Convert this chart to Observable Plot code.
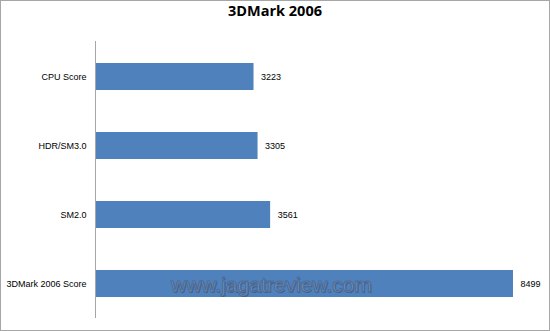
<!DOCTYPE html>
<html><head><meta charset="utf-8">
<script src="https://cdn.jsdelivr.net/npm/d3@7"></script>
<script src="https://cdn.jsdelivr.net/npm/@observablehq/plot@0.6"></script>
<style>
html,body{margin:0;padding:0;background:#fff;}
#frame{position:relative;width:548px;height:329px;border:1px solid #a6a6a6;background:#fff;overflow:hidden;}
#title{height:36px;line-height:38px;text-align:center;font:bold 14.5px "Open Sans",Arial,sans-serif;color:#000;}
#wm{position:absolute;left:170px;top:272px;font:21px "Liberation Sans",Arial,sans-serif;color:#7d92b3;-webkit-text-stroke:0.9px #4a6a95;text-shadow:1px 1px 0 #3f5f8c;}
</style></head>
<body>
<div id="frame">
<div id="title">3DMark 2006</div>
<div id="chart"></div>
<div id="wm">www.jagatreview.com</div>
</div>
<script>
const categories = ["CPU Score", "HDR/SM3.0", "SM2.0", "3DMark 2006 Score"];
const scores = [3223, 3305, 3561, 8499];
const data = categories.map((c, i) => ({cat: c, v: scores[i]}));

const chart = Plot.plot({
  width: 548,
  height: 293,
  marginLeft: 94,
  marginRight: 36,
  marginTop: 4,
  marginBottom: 12,
  style: {fontFamily: "'Liberation Sans', Arial, sans-serif", fontSize: "9px", color: "#000", background: "#fff"},
  x: {domain: [0, 8499], axis: null},
  y: {domain: categories, paddingInner: 0.61, paddingOuter: 0.305, label: null},
  marks: [
    Plot.barX(data, {x: "v", y: "cat", fill: "#4f81bd"}),
    Plot.ruleX([0], {stroke: "#a6a6a6", strokeWidth: 1}),
    Plot.axisY({tickSize: 0, tickPadding: 9, fontSize: 9, fill: "#000"}),
    Plot.text(data, {x: "v", y: "cat", text: d => String(d.v), textAnchor: "start", dx: 7, fontSize: 9, fill: "#000"})
  ]
});
document.getElementById("chart").appendChild(chart);
</script>
</body></html>
